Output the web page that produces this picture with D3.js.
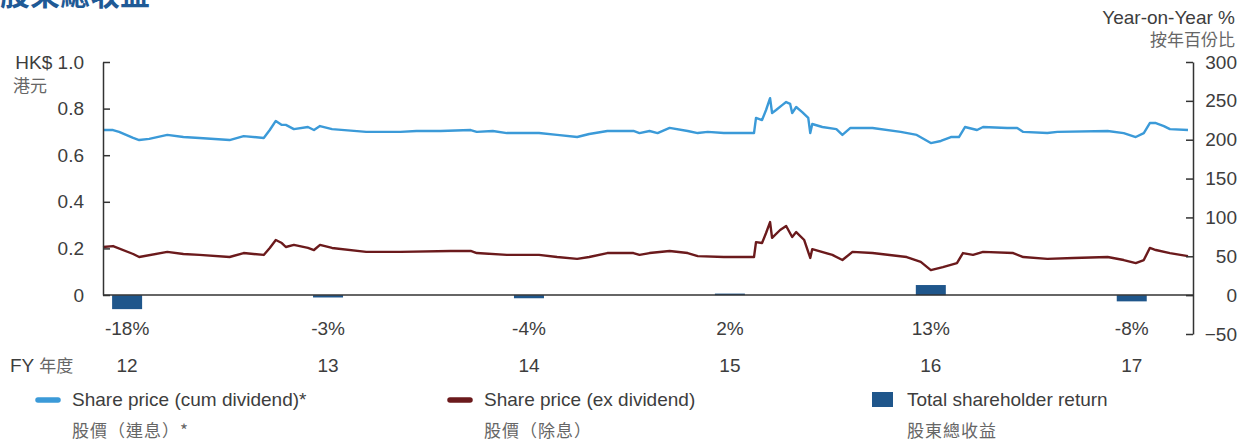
<!DOCTYPE html>
<html>
<head>
<meta charset="utf-8">
<script src="https://cdn.jsdelivr.net/npm/d3@7"></script>
<style>
    body { margin: 0; background: #fff; }
    svg { display: block; font-family: "Liberation Sans", Arial, sans-serif; }
    .cjk { font-family: "Noto Sans CJK TC", "Noto Sans CJK SC", sans-serif; }
</style>
</head>
<body>
<div id="chart"></div>
<script>
const log = console.log

// fiscal years and total shareholder return (%)
const fiscalYears = [12, 13, 14, 15, 16, 17]
const tsrValues = [-18, -3, -4, 2, 13, -8]
const tsrLabels = ["-18%", "-3%", "-4%", "2%", "13%", "-8%"]

// share price series: [years since start of chart, HK$]
const fyStart = 11.88
const cumDividend = [
    [0.00,0.708],[0.05,0.708],[0.08,0.700],[0.15,0.674],[0.18,0.665],[0.23,0.670],[0.32,0.687],[0.40,0.678],
    [0.48,0.674],[0.63,0.665],[0.70,0.682],[0.80,0.674],[0.83,0.708],[0.86,0.747],[0.89,0.730],[0.91,0.730],
    [0.95,0.712],[1.02,0.721],[1.05,0.708],[1.08,0.725],[1.14,0.712],[1.31,0.700],[1.48,0.700],[1.56,0.704],
    [1.68,0.704],[1.83,0.708],[1.86,0.700],[1.94,0.704],[2.01,0.695],[2.17,0.695],[2.26,0.687],[2.36,0.678],
    [2.42,0.691],[2.51,0.704],[2.64,0.704],[2.67,0.695],[2.72,0.704],[2.76,0.695],[2.82,0.717],[2.91,0.704],
    [2.96,0.695],[3.01,0.700],[3.09,0.695],[3.24,0.695],[3.25,0.760],[3.28,0.751],[3.30,0.794],[3.32,0.845],
    [3.33,0.781],[3.35,0.794],[3.38,0.815],[3.40,0.828],[3.42,0.820],[3.43,0.781],[3.45,0.807],[3.48,0.785],
    [3.51,0.760],[3.52,0.695],[3.53,0.734],[3.58,0.721],[3.65,0.712],[3.68,0.687],[3.72,0.717],[3.83,0.717],
    [3.97,0.700],[4.05,0.687],[4.12,0.652],[4.17,0.661],[4.22,0.678],[4.26,0.678],[4.29,0.721],[4.35,0.708],
    [4.38,0.721],[4.50,0.717],[4.55,0.717],[4.58,0.700],[4.70,0.695],[4.75,0.700],[5.00,0.704],[5.08,0.695],
    [5.14,0.678],[5.18,0.695],[5.21,0.738],[5.24,0.738],[5.28,0.725],[5.31,0.712],[5.40,0.708]
]
const exDividend = [
    [0.00,0.206],[0.05,0.210],[0.15,0.176],[0.18,0.163],[0.32,0.185],[0.40,0.176],[0.48,0.172],[0.63,0.163],
    [0.70,0.180],[0.80,0.172],[0.83,0.202],[0.86,0.236],[0.89,0.223],[0.91,0.206],[0.95,0.215],[1.02,0.202],
    [1.05,0.193],[1.08,0.215],[1.14,0.202],[1.31,0.185],[1.48,0.185],[1.73,0.189],[1.83,0.189],[1.86,0.180],
    [2.01,0.172],[2.17,0.172],[2.26,0.163],[2.36,0.155],[2.42,0.163],[2.51,0.180],[2.64,0.180],[2.67,0.172],
    [2.72,0.180],[2.82,0.189],[2.91,0.180],[2.96,0.167],[3.09,0.163],[3.24,0.163],[3.25,0.227],[3.28,0.223],
    [3.30,0.266],[3.32,0.313],[3.33,0.245],[3.37,0.279],[3.40,0.296],[3.43,0.249],[3.45,0.270],[3.49,0.236],
    [3.52,0.159],[3.53,0.197],[3.63,0.172],[3.68,0.150],[3.73,0.185],[3.83,0.180],[4.00,0.163],[4.07,0.142],
    [4.12,0.107],[4.18,0.120],[4.25,0.137],[4.28,0.180],[4.33,0.172],[4.38,0.185],[4.53,0.180],[4.58,0.163],
    [4.70,0.155],[4.83,0.159],[5.00,0.163],[5.08,0.150],[5.14,0.137],[5.18,0.150],[5.21,0.202],[5.24,0.193],
    [5.31,0.180],[5.40,0.167]
]

const priceTicks = [0, 0.2, 0.4, 0.6, 0.8, 1.0]
const pctTicks = [-50, 0, 50, 100, 150, 200, 250, 300]

const colors = { cum: "#3b9ad8", ex: "#6b1a1c", bar: "#1f568b", axis: "#333", text: "#3d3d3d", cjk: "#666" }
const fontSize = 19

const width = 1245, height = 441

const svg = d3.select("#chart").append("svg")
    .attr("width", width)
    .attr("height", height)

/** Scales */
const x = d3.scaleLinear().domain([fyStart, fyStart + 5.4]).range([103, 1188])
const yPrice = d3.scaleLinear().domain([0, 1]).range([295, 62])
const yPct = d3.scaleLinear().domain([-50, 300]).range([334, 62])

/** Title (cropped at top) */
svg.append("text")
    .attr("class", "cjk")
    .attr("x", 0).attr("y", 5)
    .attr("font-size", 30).attr("font-weight", 700)
    .attr("fill", "#1f5a96")
    .text("股東總收益")

/** Bars */
svg.append("g").selectAll("rect")
    .data(fiscalYears)
    .join("rect")
    .attr("x", (d) => x(d) - 15)
    .attr("width", 30)
    .attr("y", (d, i) => Math.min(yPct(tsrValues[i]), yPct(0)))
    .attr("height", (d, i) => Math.abs(yPct(tsrValues[i]) - yPct(0)))
    .attr("fill", colors.bar)

/** Lines */
const line = d3.line()
    .x((d) => x(fyStart + d[0]))
    .y((d) => yPrice(d[1]))

svg.append("path").datum(cumDividend)
    .attr("d", line).attr("fill", "none")
    .attr("stroke", colors.cum).attr("stroke-width", 2.4).attr("stroke-linejoin", "round")

svg.append("path").datum(exDividend)
    .attr("d", line).attr("fill", "none")
    .attr("stroke", colors.ex).attr("stroke-width", 2.4).attr("stroke-linejoin", "round")

/** Axes */
const leftAxis = d3.axisLeft(yPrice)
    .tickValues(priceTicks)
    .tickSizeInner(-7).tickSizeOuter(0).tickPadding(19)
    .tickFormat((d) => d === 1 ? "HK$ 1.0" : d === 0 ? "0" : d3.format(".1f")(d))

const gl = svg.append("g").attr("transform", "translate(103,0)").call(leftAxis)
styleAxis(gl)

const rightAxis = d3.axisRight(yPct)
    .tickValues(pctTicks)
    .tickSizeInner(-7).tickSizeOuter(0).tickPadding(0)

const gr = svg.append("g").attr("transform", "translate(1193,0)").call(rightAxis)
styleAxis(gr)
gr.selectAll(".tick text").attr("x", 44).attr("text-anchor", "end")

// zero baseline
svg.append("line")
    .attr("x1", 103).attr("x2", 1193)
    .attr("y1", yPrice(0)).attr("y2", yPrice(0))
    .attr("stroke", colors.axis).attr("stroke-width", 1.5)

function styleAxis(g) {
    g.select(".domain").attr("stroke", colors.axis).attr("stroke-width", 1.5)
    g.selectAll(".tick line").attr("stroke", colors.axis).attr("stroke-width", 1.5)
    g.selectAll(".tick text")
        .attr("font-size", fontSize)
        .attr("font-family", "'Liberation Sans', Arial, sans-serif")
        .attr("fill", colors.text)
}

/** Axis titles */
svg.append("text").attr("class", "cjk")
    .attr("x", 13).attr("y", 92)
    .attr("font-size", 17).attr("fill", colors.cjk)
    .text("港元")

svg.append("text")
    .attr("x", 1235).attr("y", 24)
    .attr("text-anchor", "end")
    .attr("font-size", fontSize).attr("fill", colors.text)
    .text("Year-on-Year %")

svg.append("text").attr("class", "cjk")
    .attr("x", 1235).attr("y", 46)
    .attr("text-anchor", "end")
    .attr("font-size", 17).attr("fill", colors.cjk)
    .text("按年百份比")

/** Percentage labels and FY labels */
svg.append("g").selectAll("text")
    .data(fiscalYears)
    .join("text")
    .attr("x", (d) => x(d))
    .attr("y", 335)
    .attr("text-anchor", "middle")
    .attr("font-size", fontSize).attr("fill", colors.text)
    .text((d, i) => tsrLabels[i])

svg.append("g").selectAll("text")
    .data(fiscalYears)
    .join("text")
    .attr("x", (d) => x(d))
    .attr("y", 372)
    .attr("text-anchor", "middle")
    .attr("font-size", fontSize).attr("fill", colors.text)
    .text((d) => d)

const fy = svg.append("text").attr("x", 10).attr("y", 372).attr("font-size", fontSize).attr("fill", colors.text)
fy.append("tspan").text("FY ")
fy.append("tspan").attr("class", "cjk").attr("font-size", 17).attr("fill", colors.cjk).text("年度")

/** Legend */
const legendItems = [
    { kind: "line", color: colors.cum, x: 35, en: "Share price (cum dividend)*", zh: "股價（連息）*" },
    { kind: "line", color: colors.ex, x: 447, en: "Share price (ex dividend)", zh: "股價（除息）" },
    { kind: "rect", color: colors.bar, x: 872, en: "Total shareholder return", zh: "股東總收益" }
]

const legend = svg.append("g").selectAll("g")
    .data(legendItems)
    .join("g")
    .attr("transform", (d) => "translate(" + d.x + ",0)")

legend.filter((d) => d.kind === "line").append("line")
    .attr("x1", 3).attr("x2", 23)
    .attr("y1", 400).attr("y2", 400)
    .attr("stroke", (d) => d.color)
    .attr("stroke-width", 5.5).attr("stroke-linecap", "round")

legend.filter((d) => d.kind === "rect").append("rect")
    .attr("x", 0).attr("y", 392)
    .attr("width", 21).attr("height", 15)
    .attr("fill", (d) => d.color)

legend.append("text")
    .attr("x", (d) => d.kind === "rect" ? 35 : 37)
    .attr("y", 406)
    .attr("font-size", fontSize).attr("fill", colors.text)
    .text((d) => d.en)

legend.append("text").attr("class", "cjk")
    .attr("x", (d) => d.kind === "rect" ? 35 : 37)
    .attr("y", 437)
    .attr("font-size", 17).attr("fill", colors.cjk)
    .attr("letter-spacing", 1)
    .text((d) => d.zh)
</script>
</body>
</html>
